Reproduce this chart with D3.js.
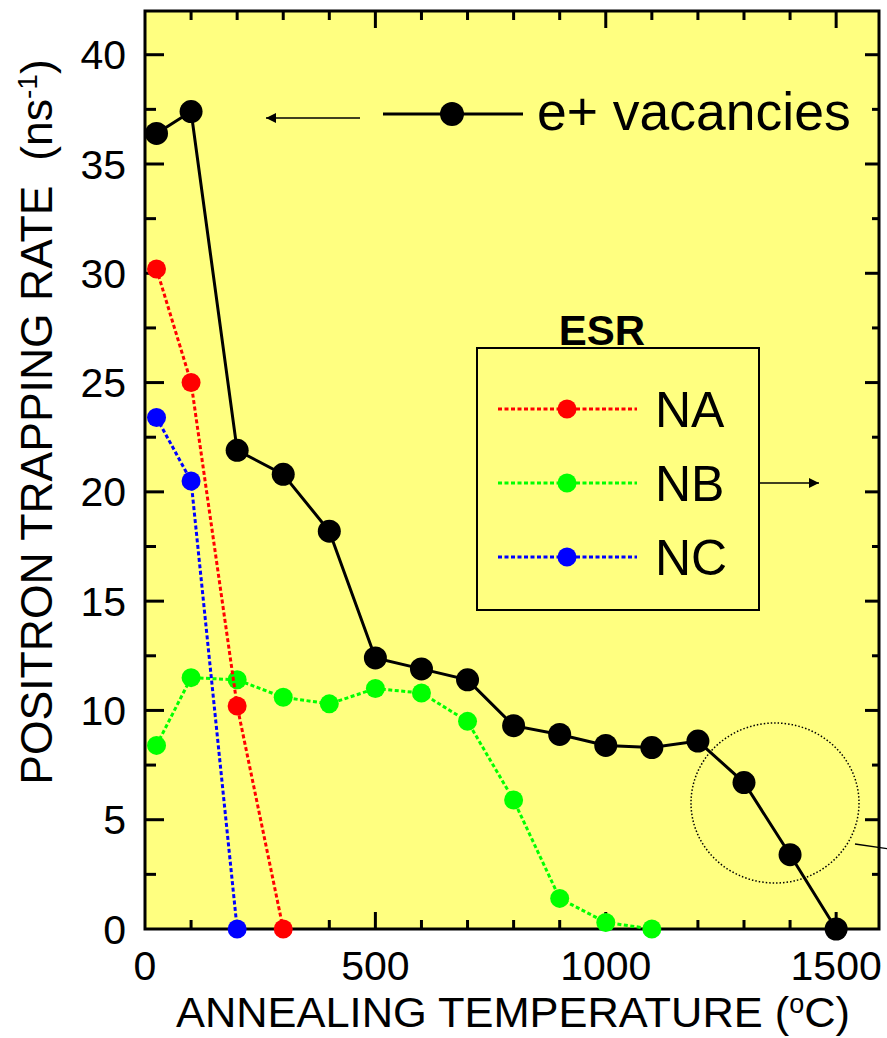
<!DOCTYPE html>
<html>
<head>
<meta charset="utf-8">
<script src="https://cdn.jsdelivr.net/npm/d3@7"></script>
<style>
  body { margin: 0; background: #fff; }
  text { font-family: Arial, "Liberation Sans", sans-serif; fill: #000; }
</style>
</head>
<body>
<svg id="chart" width="887" height="1038"></svg>
<script>
// annealing temperatures (oC)
const tempsVac = [25, 100, 200, 300, 400, 500, 600, 700, 800, 900, 1000, 1100, 1200, 1300, 1400, 1500];
const vacancies = [36.4, 37.4, 21.9, 20.8, 18.2, 12.4, 11.9, 11.4, 9.3, 8.9, 8.4, 8.3, 8.6, 6.7, 3.4, 0];

const tempsNA = [25, 100, 200, 300];
const esrNA = [30.2, 25.0, 10.2, 0];

const tempsNB = [25, 100, 200, 300, 400, 500, 600, 700, 800, 900, 1000, 1100];
const esrNB = [8.4, 11.5, 11.4, 10.6, 10.3, 11.0, 10.8, 9.5, 5.9, 1.4, 0.3, 0];

const tempsNC = [25, 100, 200];
const esrNC = [23.4, 20.5, 0];

const xTicks = [0, 500, 1000, 1500];
const yTicks = [0, 5, 10, 15, 20, 25, 30, 35, 40];
const esrNames = ["NA", "NB", "NC"];
const esrColors = ["#ff0000", "#00ff00", "#0000ff"];

let svg = d3.select("#chart");

let x = d3.scaleLinear().domain([0, 1593]).range([145, 879]);
let y = d3.scaleLinear().domain([0, 42]).range([929, 11]);

const yellow = "#ffff80";

// plot background
svg.append("rect")
  .attr("x", x(0)).attr("y", y(42))
  .attr("width", x(1593) - x(0)).attr("height", y(0) - y(42))
  .attr("fill", yellow);

// arrowheads
let defs = svg.append("defs");
defs.append("marker")
  .attr("id", "arrowhead")
  .attr("viewBox", "0 -5 10 10")
  .attr("refX", 10).attr("refY", 0)
  .attr("markerWidth", 14).attr("markerHeight", 10)
  .attr("markerUnits", "userSpaceOnUse")
  .attr("orient", "auto")
.append("path")
  .attr("d", "M0,-5L10,0L0,5Z")
  .attr("fill", "black");

// axes on four sides, ticks pointing inward
function tickLen(major, minor) {
  return function(d) { return d % 500 === 0 ? major : minor; };
}
let xMinor = d3.range(100, 1600, 100);
let yMinor = d3.range(2.5, 42, 2.5);

let bottomLen = tickLen(17, 9);
svg.append("g").selectAll("line").data(xMinor).enter().append("line")
  .attr("x1", d => x(d)).attr("x2", d => x(d))
  .attr("y1", y(0)).attr("y2", d => y(0) - bottomLen(d))
  .attr("stroke", "black").attr("stroke-width", 3);
svg.append("g").selectAll("line").data(xMinor).enter().append("line")
  .attr("x1", d => x(d)).attr("x2", d => x(d))
  .attr("y1", y(42)).attr("y2", d => y(42) + bottomLen(d))
  .attr("stroke", "black").attr("stroke-width", 3);

let yLen = function(d) { return d % 5 === 0 ? 19 : 11; };
let yLenR = function(d) { return d % 5 === 0 ? 14 : 7; };
svg.append("g").selectAll("line").data(yMinor).enter().append("line")
  .attr("y1", d => y(d)).attr("y2", d => y(d))
  .attr("x1", x(0)).attr("x2", d => x(0) + yLen(d))
  .attr("stroke", "black").attr("stroke-width", 3);
svg.append("g").selectAll("line").data(yMinor).enter().append("line")
  .attr("y1", d => y(d)).attr("y2", d => y(d))
  .attr("x1", x(1593)).attr("x2", d => x(1593) - yLenR(d))
  .attr("stroke", "black").attr("stroke-width", 3);

// frame
svg.append("rect")
  .attr("x", x(0)).attr("y", y(42))
  .attr("width", x(1593) - x(0)).attr("height", y(0) - y(42))
  .attr("fill", "none").attr("stroke", "black").attr("stroke-width", 3);

// tick labels
svg.append("g").selectAll("text").data(xTicks).enter().append("text")
  .attr("x", d => x(d)).attr("y", 980)
  .attr("text-anchor", "middle").attr("font-size", 41)
  .text(d => d);
svg.append("g").selectAll("text").data(yTicks).enter().append("text")
  .attr("x", 126).attr("y", d => y(d) + 14.5)
  .attr("text-anchor", "end").attr("font-size", 41)
  .text(d => d);

// axis titles
let xt = svg.append("text")
  .attr("x", 513).attr("y", 1027)
  .attr("text-anchor", "middle").attr("font-size", 43.4);
xt.append("tspan").text("ANNEALING TEMPERATURE (");
xt.append("tspan").attr("font-size", 27).attr("dy", -14).text("o");
xt.append("tspan").attr("dy", 14).text("C)");

let yt = svg.append("text")
  .attr("transform", "translate(52,422) rotate(-90)")
  .attr("text-anchor", "middle").attr("font-size", 44.5);
yt.append("tspan").text("POSITRON TRAPPING RATE\u00a0\u00a0(ns");
yt.append("tspan").attr("font-size", 28).attr("dy", -15).text("-1");
yt.append("tspan").attr("dy", 15).text(")");

// series
let line = d3.line().x(d => x(d[0])).y(d => y(d[1]));

function drawSeries(temps, vals, color, r, dashed) {
  let pts = d3.zip(temps, vals);
  svg.append("path").datum(pts)
    .attr("d", line)
    .attr("fill", "none")
    .attr("stroke", color)
    .attr("stroke-width", 3)
    .attr("stroke-dasharray", dashed ? "4,2.5" : null);
  svg.append("g").selectAll("circle").data(pts).enter().append("circle")
    .attr("cx", d => x(d[0])).attr("cy", d => y(d[1]))
    .attr("r", r).attr("fill", color);
}

drawSeries(tempsNB, esrNB, esrColors[1], 9.5, true);
drawSeries(tempsNA, esrNA, esrColors[0], 9.5, true);
drawSeries(tempsNC, esrNC, esrColors[2], 9.5, true);
drawSeries(tempsVac, vacancies, "black", 11.5, false);

// e+ vacancies label with arrow to the left axis
svg.append("line")
  .attr("x1", 360).attr("y1", 118).attr("x2", 266).attr("y2", 118)
  .attr("stroke", "black").attr("stroke-width", 1.6)
  .attr("marker-end", "url(#arrowhead)");
svg.append("line")
  .attr("x1", 383).attr("y1", 114).attr("x2", 523).attr("y2", 114)
  .attr("stroke", "black").attr("stroke-width", 3);
svg.append("circle").attr("cx", 452).attr("cy", 114).attr("r", 12).attr("fill", "black");
svg.append("text")
  .attr("x", 537).attr("y", 130).attr("font-size", 53.5)
  .text("e+ vacancies");

// ESR legend box
svg.append("text")
  .attr("x", 602).attr("y", 345).attr("text-anchor", "middle")
  .attr("font-size", 42).attr("font-weight", "bold")
  .text("ESR");
svg.append("rect")
  .attr("x", 477).attr("y", 348).attr("width", 282).attr("height", 262)
  .attr("fill", yellow).attr("stroke", "black").attr("stroke-width", 2);

let leg = svg.append("g").selectAll("g").data(esrNames).enter().append("g")
  .attr("transform", (d, i) => "translate(0," + (409 + i * 74) + ")");
leg.append("line")
  .attr("x1", 498).attr("x2", 637)
  .attr("stroke", (d, i) => esrColors[i])
  .attr("stroke-width", 3).attr("stroke-dasharray", "4,2.5");
leg.append("circle")
  .attr("cx", 567).attr("r", 9.5)
  .attr("fill", (d, i) => esrColors[i]);
leg.append("text")
  .attr("x", 655).attr("y", 18).attr("font-size", 50)
  .text(d => d);

svg.append("line")
  .attr("x1", 759).attr("y1", 483).attr("x2", 819).attr("y2", 483)
  .attr("stroke", "black").attr("stroke-width", 1.6)
  .attr("marker-end", "url(#arrowhead)");

// dotted circle around the high temperature points
svg.append("ellipse")
  .attr("cx", 775).attr("cy", 803).attr("rx", 84).attr("ry", 80)
  .attr("fill", "none").attr("stroke", "black")
  .attr("stroke-width", 1.5).attr("stroke-dasharray", "1.5,2");
svg.append("line")
  .attr("x1", 855).attr("y1", 844).attr("x2", 890).attr("y2", 849)
  .attr("stroke", "black").attr("stroke-width", 1.3);
</script>
</body>
</html>
